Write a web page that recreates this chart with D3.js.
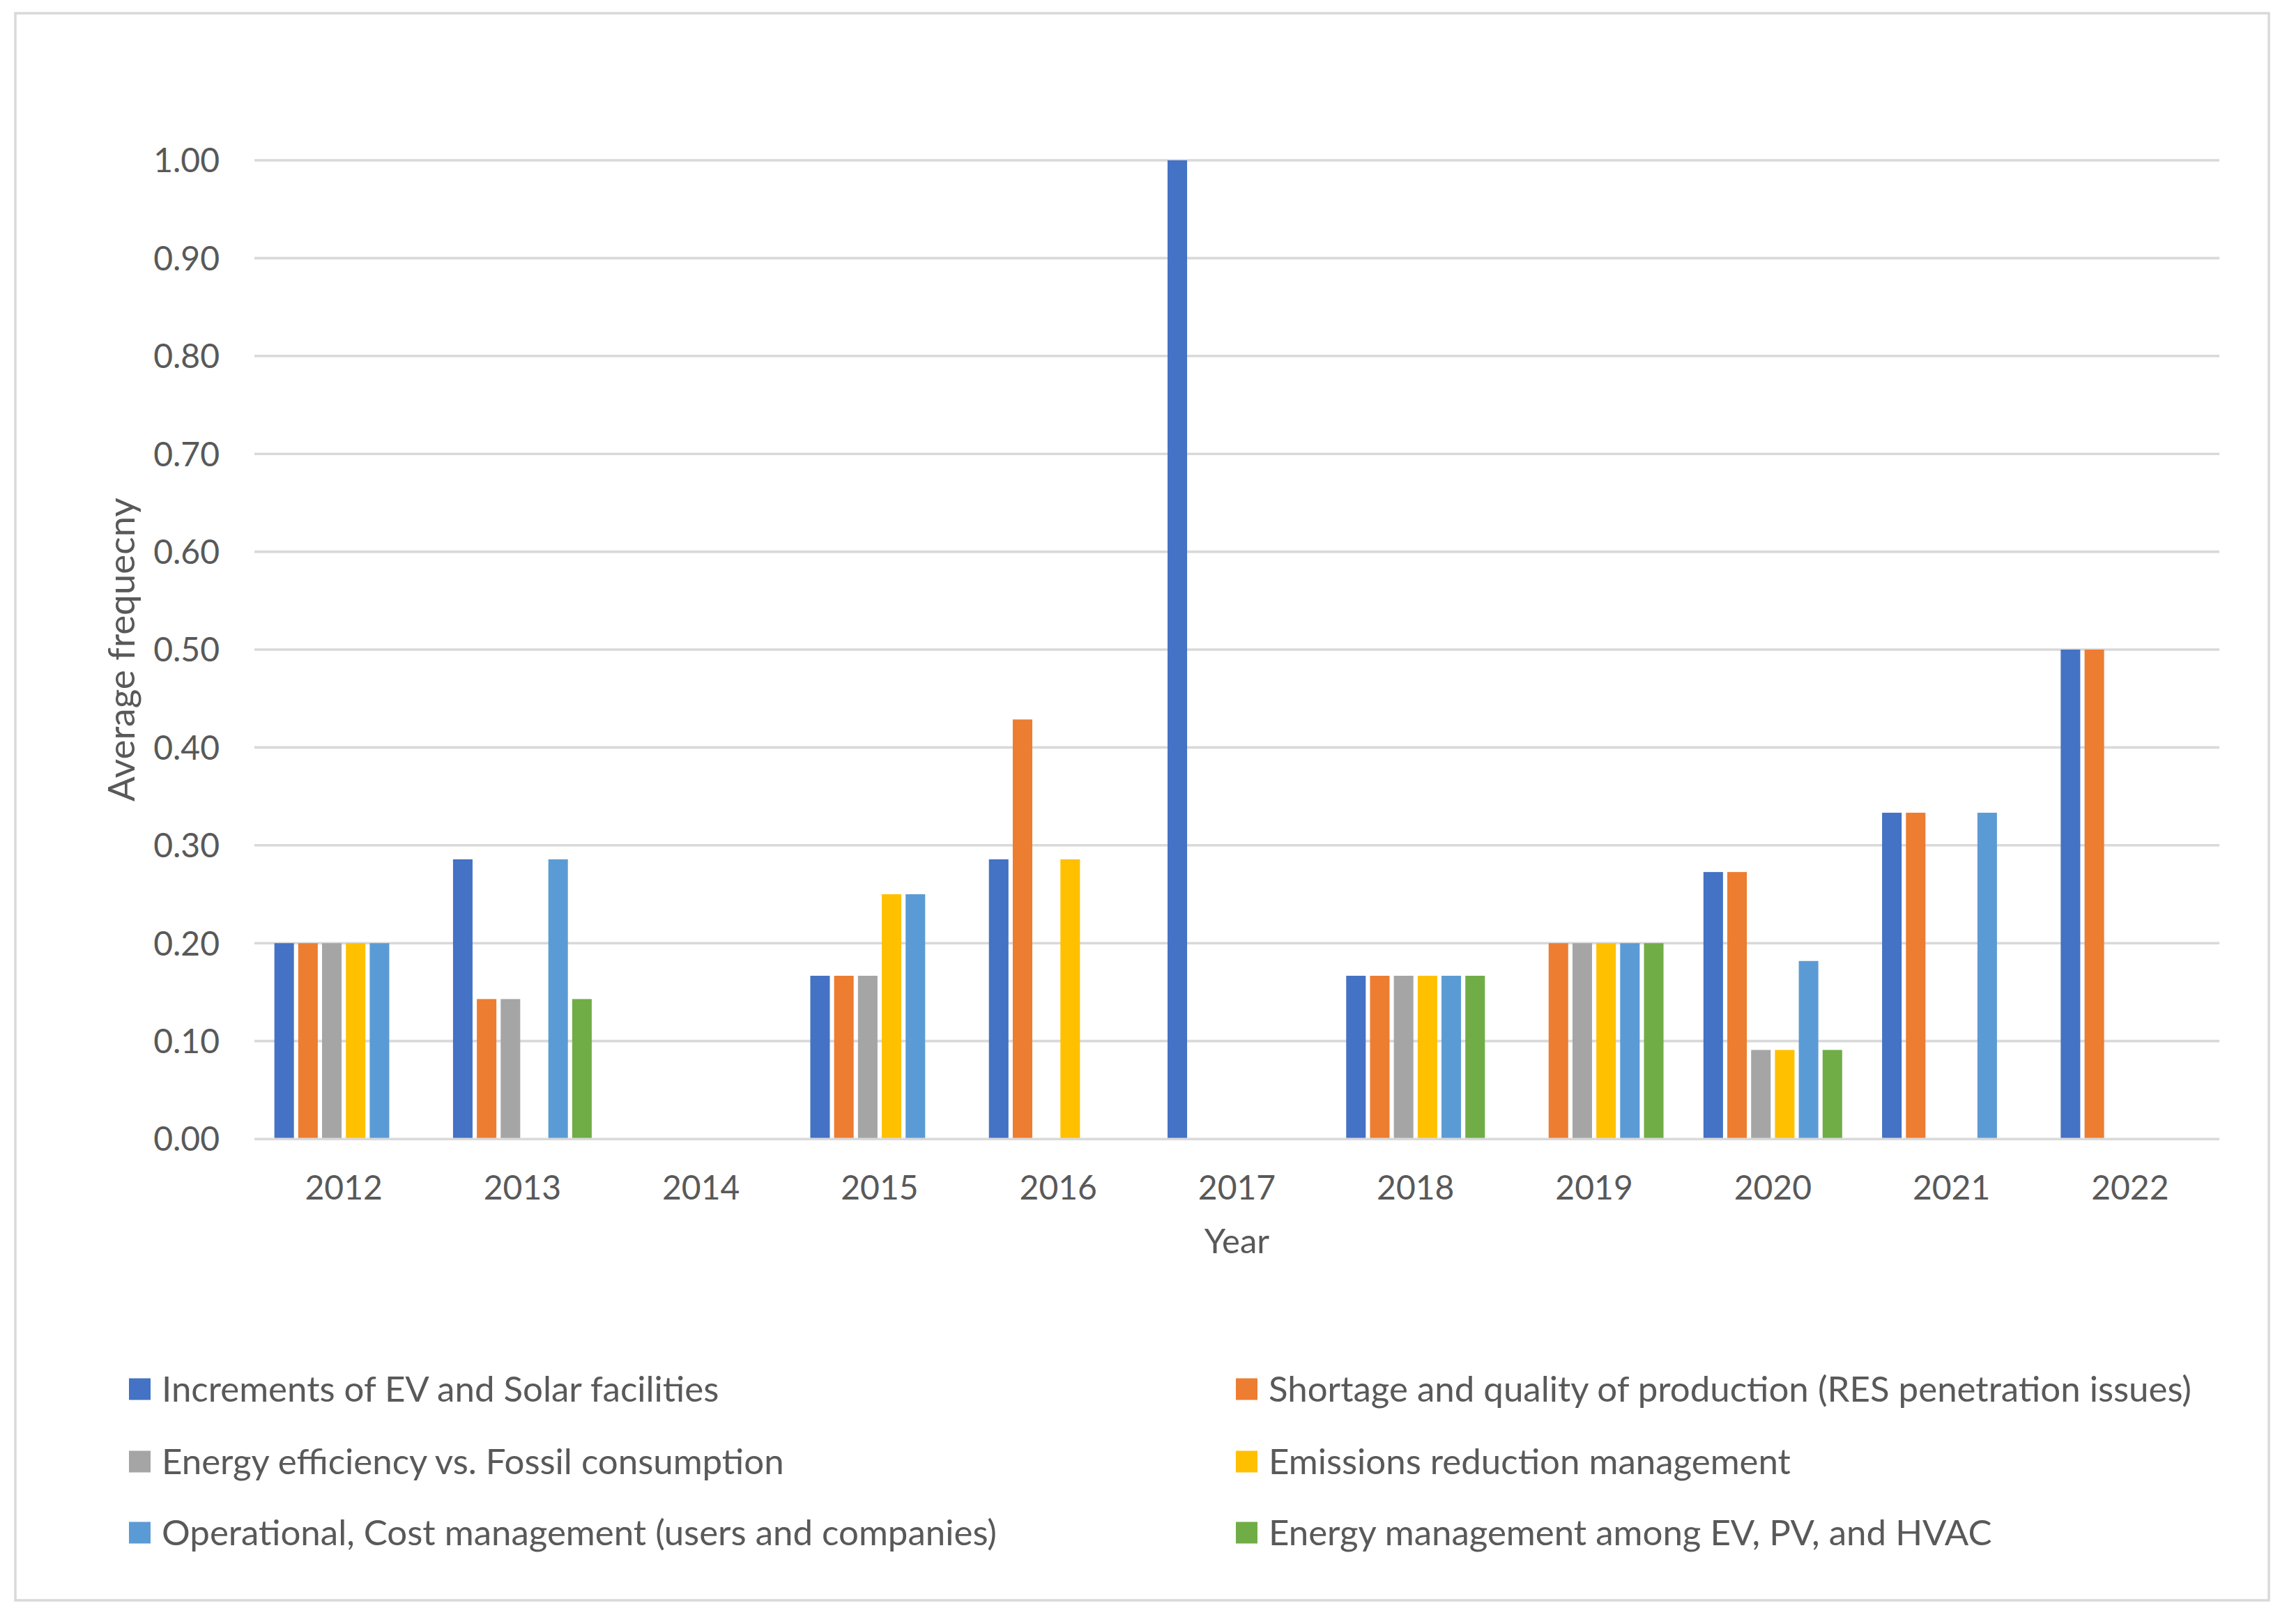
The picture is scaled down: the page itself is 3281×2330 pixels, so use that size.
<!DOCTYPE html>
<html>
<head>
<meta charset="utf-8">
<script src="https://cdn.jsdelivr.net/npm/d3@7"></script>
<style>
  html, body { margin: 0; padding: 0; background: #ffffff; }
  svg { display: block; }
  text { font-family: Lato, "Noto Sans", sans-serif; fill: #595959; }
</style>
</head>
<body>
<script>
// ---- data ----
const years = ["2012","2013","2014","2015","2016","2017","2018","2019","2020","2021","2022"];
const seriesNames = [
  "Increments of EV and Solar facilities",
  "Shortage and quality of production (RES penetration issues)",
  "Energy efficiency vs. Fossil consumption",
  "Emissions reduction management",
  "Operational, Cost management (users and companies)",
  "Energy management among EV, PV, and HVAC"
];
const seriesColors = ["#4472C4","#ED7D31","#A5A5A5","#FFC000","#5B9BD5","#70AD47"];
const incrementsEVSolar   = [0.20, 0.2857, 0, 0.1667, 0.2857, 1.00, 0.1667, 0,    0.2727, 0.3333, 0.50];
const shortageQuality     = [0.20, 0.1429, 0, 0.1667, 0.4286, 0,    0.1667, 0.20, 0.2727, 0.3333, 0.50];
const energyEfficiency    = [0.20, 0.1429, 0, 0.1667, 0,      0,    0.1667, 0.20, 0.0909, 0,      0];
const emissionsReduction  = [0.20, 0,      0, 0.25,   0.2857, 0,    0.1667, 0.20, 0.0909, 0,      0];
const operationalCost     = [0.20, 0.2857, 0, 0.25,   0,      0,    0.1667, 0.20, 0.1818, 0.3333, 0];
const energyMgmtEVPVHVAC  = [0,    0.1429, 0, 0,      0,      0,    0.1667, 0.20, 0.0909, 0,      0];
const seriesValues = [incrementsEVSolar, shortageQuality, energyEfficiency, emissionsReduction, operationalCost, energyMgmtEVPVHVAC];
const yTicks = [0, 0.1, 0.2, 0.3, 0.4, 0.5, 0.6, 0.7, 0.8, 0.9, 1.0];
const yTitle = "Average frequecny";
const xTitle = "Year";

// ---- layout ----
const W = 3281, H = 2330;
const plot = { left: 365, right: 3184, top: 230, bottom: 1634 };
const FS_TICK = 48, FS_LEG = 51, FS_XT = 49, FS_YT = 53;

const svg = d3.select("body").append("svg").attr("width", W).attr("height", H);
svg.append("rect").attr("x", 0).attr("y", 0).attr("width", W).attr("height", H).attr("fill", "#ffffff");
// chart border
svg.append("rect").attr("x", 22).attr("y", 19).attr("width", 3233).attr("height", 2277)
  .attr("fill", "none").attr("stroke", "#D9D9D9").attr("stroke-width", 3.5);

const x0 = d3.scaleBand().domain(years).range([plot.left, plot.right]).paddingInner(0).paddingOuter(0);
const y = d3.scaleLinear().domain([0, 1]).range([plot.bottom, plot.top]);
const groupHalf = 99.5;
const x1 = d3.scaleBand().domain(d3.range(seriesNames.length)).range([-groupHalf, groupHalf]).paddingInner(0.18).paddingOuter(0);

// gridlines (except zero)
svg.append("g").selectAll("line").data(yTicks.filter(t => t > 0)).join("line")
  .attr("x1", plot.left).attr("x2", plot.right)
  .attr("y1", d => y(d)).attr("y2", d => y(d))
  .attr("stroke", "#D9D9D9").attr("stroke-width", 3.6);

// bars
const flat = [];
years.forEach((yr, i) => {
  seriesValues.forEach((vals, s) => {
    if (vals[i] > 0) flat.push({ year: yr, s: s, v: vals[i] });
  });
});
svg.append("g").selectAll("rect").data(flat).join("rect")
  .attr("x", d => x0(d.year) + x0.bandwidth() / 2 + x1(d.s))
  .attr("width", x1.bandwidth())
  .attr("y", d => y(d.v))
  .attr("height", d => y(0) - y(d.v))
  .attr("fill", d => seriesColors[d.s]);

// zero axis line
svg.append("line").attr("x1", plot.left).attr("x2", plot.right)
  .attr("y1", y(0) + 0.2).attr("y2", y(0) + 0.2)
  .attr("stroke", "#D9D9D9").attr("stroke-width", 3.6);

// y axis labels via d3 axis
const yAxis = d3.axisLeft(y).tickValues(yTicks).tickFormat(d3.format(".2f")).tickSize(0).tickPadding(0);
const gy = svg.append("g").attr("transform", `translate(315,0)`).call(yAxis);
gy.select(".domain").remove();
gy.selectAll("text").attr("font-size", FS_TICK).attr("font-family", "Lato, 'Noto Sans', sans-serif")
  .attr("fill", "#595959").attr("dy", "0.35em").attr("x", 0);

// x axis labels
const xAxis = d3.axisBottom(x0).tickSize(0).tickPadding(0);
const gx = svg.append("g").attr("transform", `translate(0,1704)`).call(xAxis);
gx.select(".domain").remove();
gx.selectAll("text").attr("font-size", FS_TICK).attr("font-family", "Lato, 'Noto Sans', sans-serif")
  .attr("fill", "#595959").attr("dy", "0.35em").attr("y", 0);

// axis titles
svg.append("text").attr("x", (plot.left + plot.right) / 2).attr("y", 1781)
  .attr("text-anchor", "middle").attr("dy", "0.35em").attr("font-size", FS_XT).text(xTitle);
svg.append("text").attr("transform", `translate(193,${(plot.top + plot.bottom) / 2}) rotate(-90)`)
  .attr("text-anchor", "middle").attr("font-size", FS_YT).text(yTitle);

// legend
const legendCols = [185, 1773];
const legendRows = [1993, 2097, 2199];
const lg = svg.append("g");
seriesNames.forEach((name, i) => {
  const cx = legendCols[i % 2];
  const cy = legendRows[Math.floor(i / 2)];
  lg.append("rect").attr("x", cx).attr("y", cy - 15.5).attr("width", 31).attr("height", 31).attr("fill", seriesColors[i]);
  lg.append("text").attr("x", cx + 47).attr("y", cy).attr("dy", "0.35em").attr("font-size", FS_LEG).text(name);
});
</script>
</body>
</html>
